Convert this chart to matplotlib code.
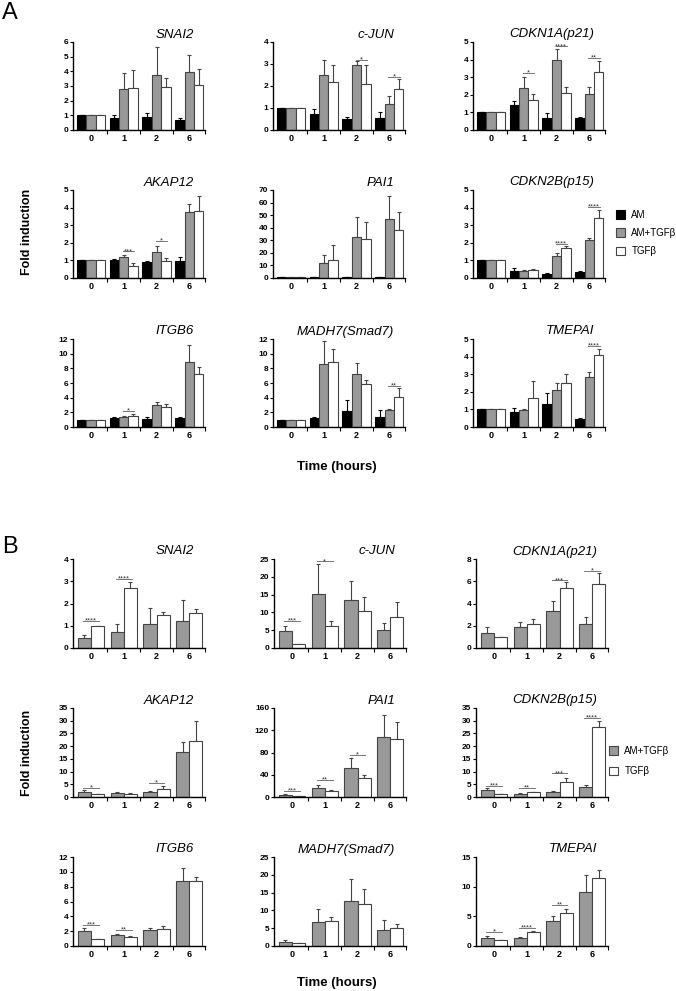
"""
Fold induction of TGFb target genes over time (panels A and B)
"""

import numpy as np
import matplotlib
matplotlib.use('Agg')
import matplotlib.pyplot as plt
import matplotlib.transforms as mtransforms
from matplotlib.patches import Patch

plt.rcParams['font.family'] = ['Liberation Sans', 'DejaVu Sans']

times = ['0', '1', '2', '6']
genes = ['SNAI2', 'c-JUN', 'CDKN1A(p21)',
         'AKAP12', 'PAI1', 'CDKN2B(p15)',
         'ITGB6', 'MADH7(Smad7)', 'TMEPAI']
series_a = ['AM', 'AM+TGFβ', 'TGFβ']
series_b = ['AM+TGFβ', 'TGFβ']

# ---- Panel A: rows are AM, AM+TGFb, TGFb (mean, upper error) ----
a_snai2 = [[1, 0.80, 0.87, 0.68], [1, 2.78, 3.77, 3.95], [1, 2.85, 2.90, 3.08]]
a_snai2_err = [[0, 0.23, 0.27, 0.12], [0, 1.10, 1.87, 1.19], [0, 1.21, 0.64, 1.07]]
a_snai2_sig = []

a_cjun = [[1, 0.73, 0.49, 0.53], [1, 2.50, 2.95, 1.19], [1, 2.16, 2.08, 1.86]]
a_cjun_err = [[0, 0.23, 0.09, 0.27], [0, 0.66, 0.20, 0.35], [0, 0.81, 0.87, 0.47]]
a_cjun_sig = [(2, '*', 3.19), (3, '*', 2.42)]

a_p21 = [[1, 1.40, 0.70, 0.66], [1, 2.40, 4.00, 2.06], [1, 1.70, 2.08, 3.28]]
a_p21_err = [[0, 0.24, 0.24, 0.08], [0, 0.60, 0.60, 0.39], [0, 0.32, 0.34, 0.64]]
a_p21_sig = [(1, '*', 3.25), (2, '****', 4.75), (3, '**', 4.10)]

a_akap12 = [[1, 1.04, 0.89, 0.98], [1, 1.19, 1.49, 3.77], [1, 0.66, 0.98, 3.81]]
a_akap12_err = [[0, 0.06, 0.09, 0.19], [0, 0.11, 0.34, 0.43], [0, 0.19, 0.15, 0.85]]
a_akap12_sig = [(1, '***', 1.51), (2, '*', 2.11)]

a_pai1 = [[1, 0.8, 0.7, 0.8], [1, 12.0, 32.7, 47.1], [1, 14.6, 31.1, 37.8]]
a_pai1_err = [[0, 0.3, 0.3, 0.3], [0, 6.6, 16.0, 18.1], [0, 12.0, 13.3, 14.9]]
a_pai1_sig = []

a_p15 = [[1, 0.41, 0.23, 0.36], [1, 0.41, 1.25, 2.15], [1, 0.45, 1.70, 3.40]]
a_p15_err = [[0, 0.14, 0.05, 0.04], [0, 0.06, 0.15, 0.15], [0, 0.06, 0.11, 0.45]]
a_p15_sig = [(2, '****', 1.96), (3, '****', 4.06)]

a_itgb6 = [[1, 1.23, 1.09, 1.27], [1, 1.36, 2.95, 8.90], [1, 1.55, 2.77, 7.20]]
a_itgb6_err = [[0, 0.13, 0.23, 0.09], [0, 0.19, 0.45, 2.30], [0, 0.22, 0.41, 1.00]]
a_itgb6_sig = [(1, '*', 2.23)]

a_smad7 = [[1, 1.23, 2.14, 1.36], [1, 8.55, 7.18, 2.27], [1, 8.86, 5.90, 4.09]]
a_smad7_err = [[0, 0.13, 1.59, 0.91], [0, 3.15, 1.59, 0.18], [0, 1.84, 0.55, 1.18]]
a_smad7_sig = [(3, '**', 5.55)]

a_tmepai = [[1, 0.83, 1.31, 0.45], [1, 0.98, 2.12, 2.84], [1, 1.65, 2.50, 4.09]]
a_tmepai_err = [[0, 0.25, 0.62, 0.06], [0, 0.06, 0.38, 0.30], [0, 0.95, 0.53, 0.34]]
a_tmepai_sig = [(3, '****', 4.62)]

a_ymax = [6, 4, 5, 5, 70, 5, 12, 12, 5]
a_ystep = [1, 1, 1, 1, 10, 1, 2, 2, 1]

# ---- Panel B: rows are AM+TGFb, TGFb ----
b_snai2 = [[0.45, 0.74, 1.09, 1.20], [1.00, 2.71, 1.48, 1.59]]
b_snai2_err = [[0.15, 0.32, 0.71, 0.94], [0, 0.24, 0.14, 0.18]]
b_snai2_sig = [(0, '****', 1.20), (1, '****', 3.09)]

b_cjun = [[4.73, 15.15, 13.6, 5.1], [1.04, 6.16, 10.5, 8.6]]
b_cjun_err = [[1.52, 8.45, 5.3, 2.0], [0, 1.34, 3.7, 4.4]]
b_cjun_sig = [(0, '***', 7.5), (1, '*', 24.3)]

b_p21 = [[1.39, 1.93, 3.29, 2.15], [1.00, 2.20, 5.38, 5.74]]
b_p21_err = [[0.51, 0.43, 0.91, 0.66], [0, 0.37, 0.52, 1.00]]
b_p21_sig = [(2, '***', 6.07), (3, '*', 6.95)]

b_akap12 = [[1.85, 1.45, 1.85, 17.6], [1.06, 1.19, 3.17, 21.9]]
b_akap12_err = [[1.05, 0.53, 0.53, 4.2], [0, 0.26, 1.33, 7.8]]
b_akap12_sig = [(0, '*', 3.57), (2, '*', 5.55)]

b_pai1 = [[4.2, 16.8, 52.7, 107.0], [1.2, 10.8, 34.1, 103.6]]
b_pai1_err = [[1.8, 4.8, 16.8, 41.0], [0, 1.2, 4.8, 31.8]]
b_pai1_sig = [(0, '***', 10.8), (1, '**', 30.0), (2, '*', 76.0)]

b_p15 = [[2.90, 1.32, 1.98, 3.83], [1.06, 1.85, 5.94, 27.5]]
b_p15_err = [[0.80, 0.27, 0.27, 1.07], [0, 0.25, 1.72, 2.35]]
b_p15_sig = [(0, '***', 4.5), (1, '**', 3.57), (2, '***', 9.25), (3, '****', 31.0)]

b_itgb6 = [[2.04, 1.54, 2.13, 8.83], [1.00, 1.22, 2.31, 8.83]]
b_itgb6_err = [[0.45, 0.05, 0.23, 1.72], [0, 0.09, 0.45, 0.45]]
b_itgb6_sig = [(0, '***', 2.85), (1, '**', 2.13)]

b_smad7 = [[1.22, 6.74, 12.6, 4.40], [0.94, 7.00, 11.7, 4.96]]
b_smad7_err = [[0.47, 3.76, 6.1, 2.80], [0, 1.24, 4.4, 1.31]]
b_smad7_sig = []

b_tmepai = [[1.30, 1.36, 4.24, 9.17], [0.96, 2.38, 5.60, 11.5]]
b_tmepai_err = [[0.40, 0.22, 0.80, 2.73], [0, 0.17, 0.68, 1.35]]
b_tmepai_sig = [(0, '*', 2.43), (1, '****', 3.11), (2, '**', 6.9)]

b_ymax = [4, 25, 8, 35, 160, 35, 12, 25, 15]
b_ystep = [1, 5, 2, 5, 40, 5, 2, 5, 5]

a_means = [a_snai2, a_cjun, a_p21, a_akap12, a_pai1, a_p15, a_itgb6, a_smad7, a_tmepai]
a_errs = [a_snai2_err, a_cjun_err, a_p21_err, a_akap12_err, a_pai1_err, a_p15_err,
          a_itgb6_err, a_smad7_err, a_tmepai_err]
a_sigs = [a_snai2_sig, a_cjun_sig, a_p21_sig, a_akap12_sig, a_pai1_sig, a_p15_sig,
          a_itgb6_sig, a_smad7_sig, a_tmepai_sig]
b_means = [b_snai2, b_cjun, b_p21, b_akap12, b_pai1, b_p15, b_itgb6, b_smad7, b_tmepai]
b_errs = [b_snai2_err, b_cjun_err, b_p21_err, b_akap12_err, b_pai1_err, b_p15_err,
          b_itgb6_err, b_smad7_err, b_tmepai_err]
b_sigs = [b_snai2_sig, b_cjun_sig, b_p21_sig, b_akap12_sig, b_pai1_sig, b_p15_sig,
          b_itgb6_sig, b_smad7_sig, b_tmepai_sig]

GRAY = '#999999'
EDGE = '#444444'
colors_a = ['black', GRAY, 'white']
edges_a = ['black', EDGE, EDGE]
colors_b = [GRAY, 'white']
edges_b = [EDGE, EDGE]

W, H = 676, 991
fig = plt.figure(figsize=(W / 100, H / 100), dpi=100)


def add_axes(left, top, width=132, height=88):
    return fig.add_axes([left / W, 1 - (top + height) / H, width / W, height / H])


def draw(ax, means, errs, sigs, colors, edges, title, ymax, ystep, group_frac):
    n = len(means)
    w = group_frac / n
    x = np.arange(len(times))
    offsets = (np.arange(n) - (n - 1) / 2) * w
    for i in range(n):
        ax.bar(x + offsets[i], means[i], w, color=colors[i], edgecolor=edges[i],
               linewidth=0.8, zorder=2)
        ax.errorbar(x + offsets[i], means[i], yerr=[np.zeros(len(times)), errs[i]],
                    fmt='none', ecolor=edges[i], elinewidth=0.8, capsize=1.6,
                    capthick=0.8, zorder=1)
    # significance bars, stars sit right on top of the line
    star_trans = mtransforms.offset_copy(ax.transData, fig=fig, y=-1.5, units='dots')
    for g, stars, y in sigs:
        xa = g + offsets[-2] - 0.1 * w
        xb = g + offsets[-1] + 0.1 * w
        ax.plot([xa, xb], [y, y], color='#777777', lw=0.7, zorder=3)
        ax.text((xa + xb) / 2, y, stars, ha='center', va='baseline', fontsize=5.5,
                color='#333333', zorder=3, transform=star_trans)

    ax.set_xlim(-0.55, 3.48)
    ax.set_ylim(0, ymax)
    ax.set_yticks(np.arange(0, ymax + ystep / 2, ystep))
    ax.set_xticks(x)
    ax.set_xticklabels(times)
    ax.set_xticks([0.5, 1.5, 2.5, 3.48], minor=True)
    ax.tick_params(axis='x', which='major', length=0, pad=3, labelsize=6.5)
    ax.tick_params(axis='x', which='minor', length=3, width=0.8, direction='out')
    ax.tick_params(axis='y', length=2.5, width=0.8, pad=1, labelsize=6)
    for lab in ax.get_xticklabels() + ax.get_yticklabels():
        lab.set_fontweight('bold')
    for s in ['top', 'right']:
        ax.spines[s].set_visible(False)
    for s in ['left', 'bottom']:
        ax.spines[s].set_linewidth(1.0)

    trans = mtransforms.offset_copy(ax.transAxes, fig=fig, x=-11, y=4.5, units='dots')
    ax.text(1, 1, title, transform=trans, ha='right', va='baseline',
            fontsize=9.5, fontstyle='italic')


# Panel A
a_left = [73, 273, 473]
a_top = [42, 190, 339]
for k in range(9):
    ax = add_axes(a_left[k % 3], a_top[k // 3])
    draw(ax, a_means[k], a_errs[k], a_sigs[k], colors_a, edges_a, genes[k],
         a_ymax[k], a_ystep[k], 0.86)

# Panel B
b_left = [73, 274, 476]
b_top = [559, 708, 857]
for k in range(9):
    ax = add_axes(b_left[k % 3], b_top[k // 3], height=89)
    draw(ax, b_means[k], b_errs[k], b_sigs[k], colors_b, edges_b, genes[k],
         b_ymax[k], b_ystep[k], 0.80)

# Legends
handles_a = [Patch(facecolor=c, edgecolor=e, linewidth=0.8) for c, e in zip(colors_a, edges_a)]
fig.legend(handles_a, series_a, loc='upper left', bbox_to_anchor=(607 / W, 1 - 201 / H),
           frameon=False, fontsize=7, handlelength=1.0, handleheight=1.0,
           handletextpad=0.6, labelspacing=0.85)
handles_b = [Patch(facecolor=c, edgecolor=e, linewidth=0.8) for c, e in zip(colors_b, edges_b)]
fig.legend(handles_b, series_b, loc='upper left', bbox_to_anchor=(600 / W, 1 - 737 / H),
           frameon=False, fontsize=7, handlelength=1.0, handleheight=1.0,
           handletextpad=0.6, labelspacing=1.1)

# Shared labels
fig.text(27 / W, 1 - 232 / H, 'Fold induction', rotation=90, ha='center', va='center',
         fontsize=9, fontweight='bold')
fig.text(27 / W, 1 - 753 / H, 'Fold induction', rotation=90, ha='center', va='center',
         fontsize=9, fontweight='bold')
fig.text(337 / W, 1 - 467 / H, 'Time (hours)', ha='center', va='center',
         fontsize=9.5, fontweight='bold')
fig.text(337 / W, 1 - 983 / H, 'Time (hours)', ha='center', va='center',
         fontsize=9.5, fontweight='bold')
fig.text(2 / W, 1 - 13 / H, 'A', ha='left', va='center', fontsize=17)
fig.text(2 / W, 1 - 547 / H, 'B', ha='left', va='center', fontsize=17)

fig.savefig('out.png', dpi=100)
